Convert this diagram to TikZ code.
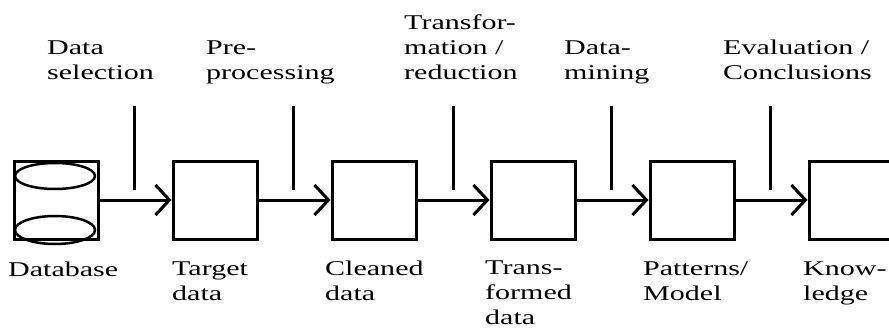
\documentclass[tikz,border=0pt]{standalone}
\usepackage{fontspec}
\setmainfont{Liberation Serif}[FakeStretch=1.43]
\usetikzlibrary{positioning,arrows.meta}
\tikzset{stage/.style={draw,line width=3pt,minimum width=84pt,minimum height=78pt,inner sep=0pt},
         flow/.style={-{Straight Barb[length=14pt,width=30pt]},line width=3pt},
         tick/.style={line width=3pt},
         lbl/.style={anchor=base west,align=left,inner sep=0pt,font=\fontsize{21}{25}\selectfont}
}

\begin{document}
\begin{tikzpicture}[x=1pt,y=-1pt]
    \useasboundingbox (0,0) rectangle (889,329);
    % database cylinder
    \node[stage] (db) at (56,200) {};
    \draw[line width=2.5pt] (55,176) ellipse [x radius=40, y radius=13];
    \draw[line width=2.5pt] (55,230) ellipse [x radius=40, y radius=14];
    % stages
    \node[stage] (target) at (215,200) {};
    \node[stage] (clean)  at (374,200) {};
    \node[stage] (trans)  at (533,200) {};
    \node[stage] (model)  at (692,200) {};
    \node[stage] (know)   at (851,200) {};
    \draw[flow] (db) -- (target);
    \draw[flow] (target) -- (clean);
    \draw[flow] (clean) -- (trans);
    \draw[flow] (trans) -- (model);
    \draw[flow] (model) -- (know);
    % steps (labels anchored at baseline of last line)
    \foreach \x [count=\i] in {134,293,453,611,770}
        {\coordinate (s\i) at (\x,106);
         \draw[tick] (s\i) -- ++(0,84);}
    \node[lbl] (sel) at (47,80)  {Data\\selection};
    \node[lbl] (pre) at (206,80) {Pre-\\processing};
    \node[lbl] (red) at (404,79) {Transfor-\\mation /\\reduction};
    \node[lbl] (min) at (564,80) {Data-\\mining};
    \node[lbl] (eva) at (723,80) {Evaluation /\\Conclusions};
    % results
    \node[lbl] (dbl)  at (8,276)   {Database};
    \node[lbl] (tgl)  at (172,300) {Target\\data};
    \node[lbl] (cll)  at (325,300) {Cleaned\\data};
    \node[lbl] (trl)  at (485,324) {Trans-\\formed\\data};
    \node[lbl] (mol)  at (643,300) {Patterns/\\Model};
    \node[lbl] (knl)  at (803,300) {Know-\\ledge};
\end{tikzpicture}
\end{document}
